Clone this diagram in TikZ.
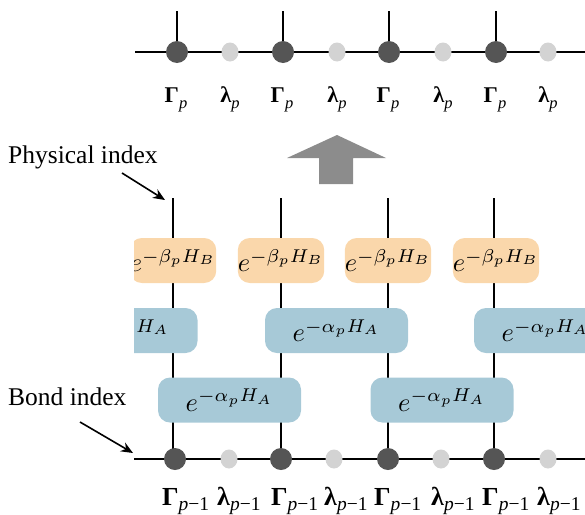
\documentclass[tikz,border=0pt]{standalone}
\usepackage{fontspec}
\setmainfont{Liberation Serif}
\usetikzlibrary{shapes.geometric,arrows.meta}
\definecolor{peach}{RGB}{250,215,171}
\definecolor{bluebox}{RGB}{167,201,215}
\definecolor{darkdot}{RGB}{85,85,85}
\definecolor{lightdot}{RGB}{211,211,211}
\definecolor{arrowgray}{RGB}{140,140,140}
\newcommand{\subA}[1]{\raisebox{-0.28em}{\fontsize{16.5}{16.5}\selectfont #1}}
\newcommand{\subB}[1]{\raisebox{-0.22em}{\fontsize{19.5}{19.5}\selectfont #1}}
\newcommand{\gatetext}[1]{\scalebox{2.65}{\fontsize{10}{12}\selectfont $#1$}}
\tikzset{
  wire/.style={line width=1.6pt,black},
  darknode/.style={circle,fill=darkdot,minimum size=22pt,inner sep=0pt},
  lightnode/.style={ellipse,fill=lightdot,minimum width=17pt,minimum height=19pt,inner sep=0pt},
  toplab/.style={font=\fontsize{22.5}{22.5}\selectfont,inner sep=0pt,anchor=base},
  botlab/.style={font=\fontsize{26}{26}\selectfont,inner sep=0pt,anchor=base west},
  sidelab/.style={font=\fontsize{25.5}{25.5}\selectfont,inner sep=0pt,anchor=base west},
  gatebox/.style={rounded corners=12pt,minimum height=45pt,inner sep=0pt},
  bgate/.style={gatebox,fill=peach,minimum width=80pt},
  agate/.style={gatebox,fill=bluebox,minimum width=143pt},
  pointer/.style={line width=1.6pt,-{Stealth[length=12pt,width=10pt]}}
}
\begin{document}
\begin{tikzpicture}[x=1pt,y=-1pt]
\useasboundingbox (0,0) rectangle (585,514);
% ---------- top chain ----------
\coordinate (tl) at (135,52);
\coordinate (tr) at (585,52);
\draw[wire] (tl) -- (tr);
\foreach \i/\x in {1/177,2/283,3/389,4/496}{
  \coordinate (tu\i) at (\x,11);
  \node[darknode] (tG\i) at (\x,52) {};
  \draw[wire] (tu\i) -- (tG\i.north);
}
\foreach \i/\x in {1/230,2/337,3/443,4/548}{
  \node[lightnode] (tL\i) at (\x,52) {};
}
\foreach \i/\x in {1/176,2/282,3/388,4/495}{
  \node[toplab] (tgl\i) at (\x,102) {\textbf{Γ}\subA{\textit{p}}};
}
\foreach \i/\x in {1/230,2/337,3/443,4/548}{
  \node[toplab] (tll\i) at (\x,102) {\textbf{λ}\subA{\textit{p}}};
}
% ---------- gray arrow ----------
\fill[arrowgray] (337,135) -- (386,158) -- (353,158) -- (353,184) -- (319,184) -- (319,158) -- (287,158) -- cycle;
% ---------- side labels ----------
\node[sidelab] (phys) at (8,163) {Physical index};
\node[sidelab] (bond) at (8,405) {Bond index};
\coordinate (pa) at (122,173);
\coordinate (pb) at (165,200);
\coordinate (ba) at (80,422);
\coordinate (bb) at (133,453);
\draw[pointer] (pa) -- (pb);
\draw[pointer] (ba) -- (bb);
% ---------- circuit ----------
\begin{scope}
\clip (134,0) rectangle (585,514);
\coordinate (bl) at (134,459);
\coordinate (br) at (585,459);
\draw[wire] (bl) -- (br);
\foreach \i/\x in {1/173,2/281,3/388,4/494}{
  \coordinate (pt\i) at (\x,198);
  \coordinate (pl\i) at (\x,459);
  \draw[wire] (pt\i) -- (pl\i);
}
\foreach \i/\x in {1/173,2/281,3/388,4/496}{
  \node[bgate] (B\i) at (\x,260.5) {\gatetext{e^{-\beta_p H_B}}};
}
\node[agate] (A1) at (126,330.5) {\gatetext{e^{-\alpha_p H_A}}};
\node[agate] (A2) at (336.5,330.5) {\gatetext{e^{-\alpha_p H_A}}};
\node[agate] (A3) at (545.5,330.5) {\gatetext{e^{-\alpha_p H_A}}};
\node[agate] (A4) at (229.5,400) {\gatetext{e^{-\alpha_p H_A}}};
\node[agate] (A5) at (442,400) {\gatetext{e^{-\alpha_p H_A}}};
\foreach \i/\x in {1/175,2/281,3/388,4/494}{
  \node[darknode] (bG\i) at (\x,459) {};
}
\foreach \i/\x in {1/229,2/334,3/441,4/548}{
  \node[lightnode] (bL\i) at (\x,459) {};
}
\end{scope}
\foreach \i/\x in {1/162,2/271,3/374,4/482}{
  \node[botlab] (bgl\i) at (\x,505) {\textbf{Γ}\subB{\textit{p}−1}};
}
\foreach \i/\x in {1/217,2/324,3/431,4/537}{
  \node[botlab] (bll\i) at (\x,505) {\textbf{λ}\subB{\textit{p}−1}};
}
\end{tikzpicture}
\end{document}
